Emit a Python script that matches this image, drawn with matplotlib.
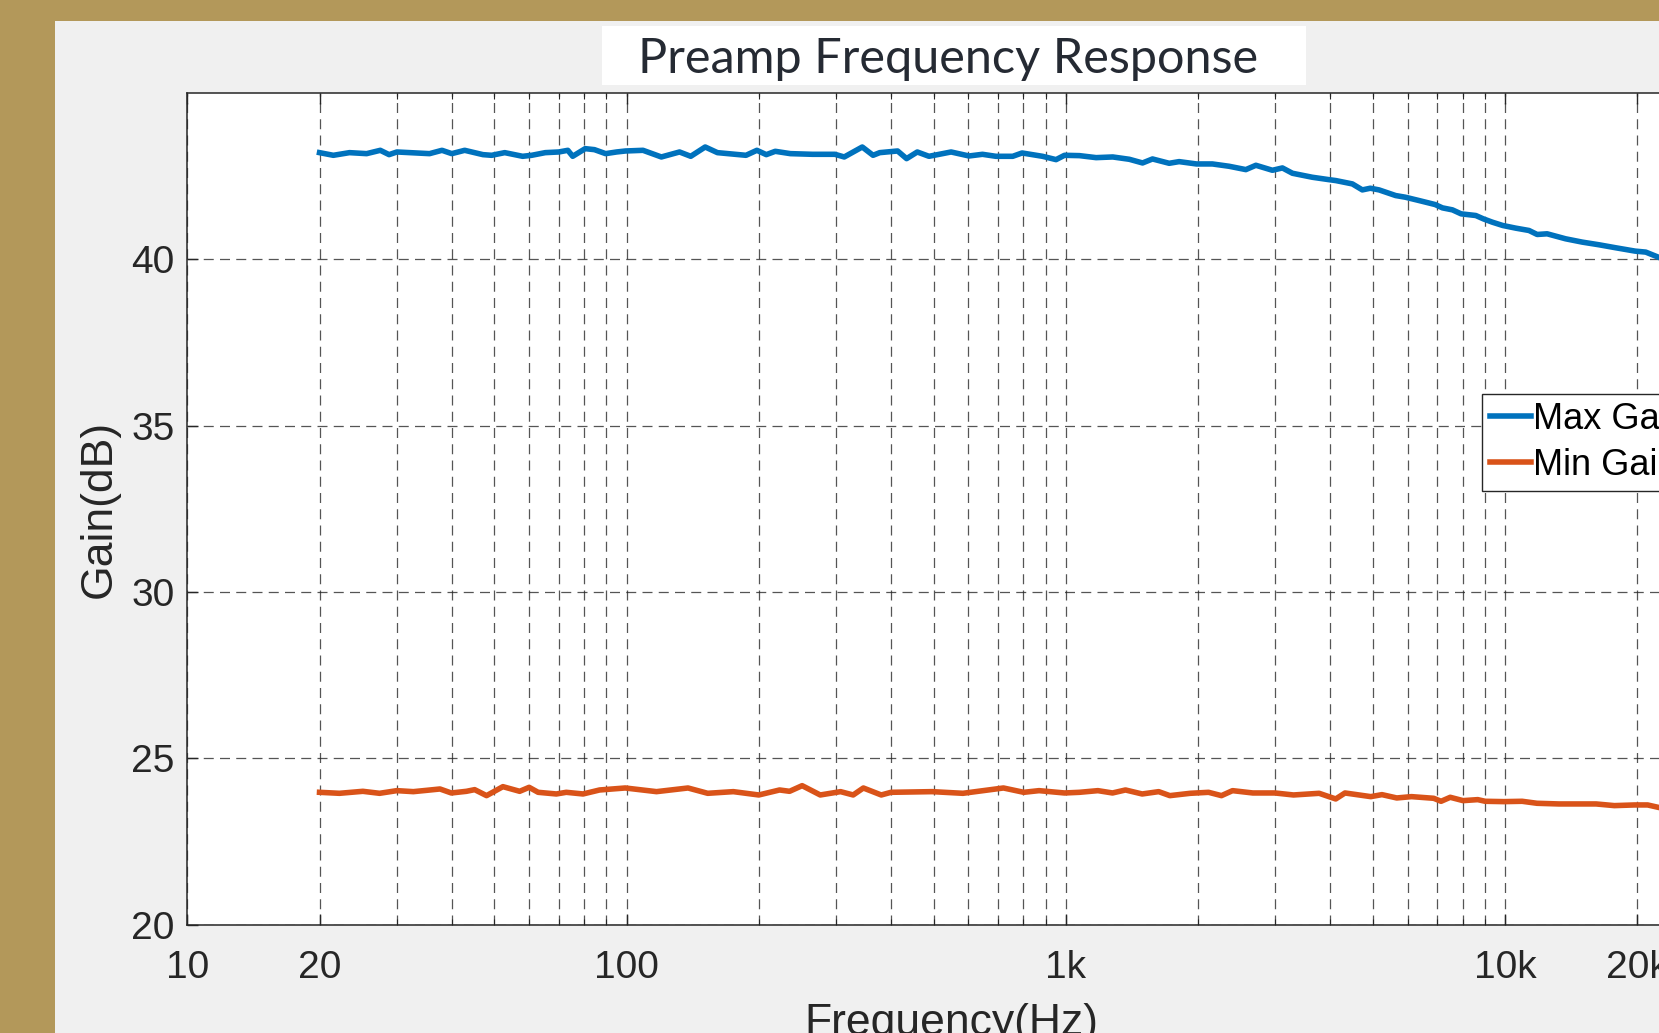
import numpy as np
import matplotlib
matplotlib.use('Agg')
import matplotlib.pyplot as plt
from matplotlib.patches import Rectangle
from matplotlib.ticker import LogLocator, NullFormatter

plt.rcParams['font.family'] = ['Liberation Sans', 'DejaVu Sans']

# Max gain curve (Hz, dB)
freq_max = [20, 21.5, 23.4, 25.6, 27.5,
            28.8, 30, 35.6, 38, 40,
            42.8, 47.1, 49.3, 52.8, 58,
            60.8, 65.3, 70.1, 73.5, 75.4,
            80.5, 84.5, 89.6, 94.9, 99.5,
            109, 120, 132, 140, 151,
            161, 187, 198, 208, 218,
            236, 265, 298, 313, 344,
            364, 377, 414, 434, 459,
            488, 548, 602, 646, 693,
            757, 795, 885, 950, 993,
            1074, 1172, 1279, 1395, 1495,
            1575, 1719, 1811, 1983, 2156,
            2354, 2569, 2708, 2953, 3112,
            3280, 3640, 3962, 4118, 4490,
            4731, 4933, 5164, 5634, 5928,
            6369, 6928, 7199, 7586, 7940,
            8575, 8919, 9350, 9877, 10575,
            11334, 11830, 12464, 13729, 14987,
            16360, 17860, 19760, 20900, 22300]
gain_max = [43.21, 43.13, 43.21, 43.18, 43.28,
            43.15, 43.23, 43.18, 43.28, 43.18,
            43.28, 43.15, 43.13, 43.21, 43.10,
            43.13, 43.21, 43.23, 43.28, 43.10,
            43.33, 43.30, 43.18, 43.23, 43.26,
            43.28, 43.08, 43.23, 43.10, 43.38,
            43.21, 43.13, 43.28, 43.15, 43.25,
            43.18, 43.16, 43.16, 43.08, 43.38,
            43.13, 43.21, 43.26, 43.03, 43.23,
            43.10, 43.23, 43.11, 43.16, 43.10,
            43.10, 43.20, 43.10, 43.00, 43.13,
            43.12, 43.06, 43.08, 43.01, 42.90,
            43.02, 42.89, 42.94, 42.87, 42.87,
            42.80, 42.70, 42.83, 42.68, 42.75,
            42.59, 42.47, 42.40, 42.37, 42.27,
            42.09, 42.14, 42.09, 41.92, 41.87,
            41.77, 41.65, 41.55, 41.49, 41.37,
            41.32, 41.22, 41.12, 41.02, 40.94,
            40.87, 40.75, 40.77, 40.62, 40.52,
            40.44, 40.35, 40.25, 40.22, 40.07]

# Min gain curve (Hz, dB)
freq_min = [20, 22.2, 25.1, 27.4, 30,
            32.7, 35.1, 37.6, 39.9, 43.2,
            45.1, 48, 52.3, 57.1, 60,
            62.9, 69.2, 72.9, 79.6, 86.8,
            99.3, 117, 138, 153, 175,
            200, 223, 235, 251, 276,
            307, 328, 346, 380, 400,
            496, 583, 721, 802, 869,
            993, 1074, 1183, 1277, 1367,
            1492, 1627, 1725, 1919, 2113,
            2261, 2396, 2665, 2994, 3298,
            3773, 4115, 4320, 4945, 5244,
            5667, 6124, 6878, 7148, 7500,
            8021, 8664, 9010, 9925, 10935,
            11820, 13260, 16110, 17730, 19715,
            21110, 22280]
gain_min = [23.98, 23.95, 24.01, 23.95, 24.03,
            24.00, 24.04, 24.08, 23.96, 24.01,
            24.06, 23.88, 24.15, 24.01, 24.13,
            23.98, 23.93, 23.98, 23.93, 24.05,
            24.11, 24.00, 24.11, 23.95, 24.00,
            23.90, 24.05, 24.01, 24.18, 23.90,
            24.00, 23.90, 24.11, 23.90, 23.98,
            24.00, 23.95, 24.11, 23.98, 24.03,
            23.96, 23.98, 24.03, 23.96, 24.05,
            23.93, 24.00, 23.88, 23.95, 23.98,
            23.88, 24.03, 23.96, 23.96, 23.90,
            23.95, 23.78, 23.96, 23.85, 23.91,
            23.81, 23.85, 23.80, 23.71, 23.83,
            23.73, 23.76, 23.71, 23.70, 23.71,
            23.65, 23.63, 23.63, 23.58, 23.60,
            23.60, 23.53]

xticks = [10, 20, 100, 1000, 10000, 20000]
xticklabels = ['10', '20', '100', '1k', '10k', '20k']
yticks = [20, 25, 30, 35, 40]

W, H = 1659, 1033
fig = plt.figure(figsize=(W / 100, H / 100), dpi=100, facecolor='#f0f0f0')

# gold frame of the slide
gold = '#b3985a'
fig.patches.append(Rectangle((0, 0), 55 / W, 1, transform=fig.transFigure,
                             facecolor=gold, edgecolor='none', zorder=0))
fig.patches.append(Rectangle((0, 1 - 21 / H), 1, 21 / H, transform=fig.transFigure,
                             facecolor=gold, edgecolor='none', zorder=0))

# white title box
fig.patches.append(Rectangle((602 / W, 1 - 85 / H), 704 / W, 59 / H, transform=fig.transFigure,
                             facecolor='white', edgecolor='none', zorder=1))
fig.text(948 / W, 1 - 59 / H, 'Preamp Frequency Response', ha='center', va='center',
         fontsize=35, family=['Lato', 'DejaVu Sans'], color='#252a33', zorder=2)

ax = fig.add_axes([187.3 / W, (H - 924.7) / H, 1527.4 / W, 831.6 / H])
ax.set_facecolor('white')

ax.semilogx(freq_max, gain_max, color='#0072BD', lw=4, label='Max Gain', zorder=3)
ax.semilogx(freq_min, gain_min, color='#D95319', lw=4, label='Min Gain', zorder=3)

ax.set_xlim(10, 30000)
ax.set_ylim(20, 45)
ax.set_xticks(xticks)
ax.set_xticklabels(xticklabels)
ax.xaxis.set_minor_locator(LogLocator(base=10, subs=np.arange(2, 10)))
ax.xaxis.set_minor_formatter(NullFormatter())
ax.set_yticks(yticks)

dash = (0, (8, 5))
ax.grid(True, which='both', axis='x', ls=dash, color='#2a2a2a', lw=0.9, alpha=0.8)
ax.grid(True, which='major', axis='y', ls=dash, color='#2a2a2a', lw=0.9, alpha=0.8)

ax.tick_params(which='both', direction='in', top=True, right=True, colors='#262626')
ax.tick_params(which='major', length=8, width=1)
ax.tick_params(which='minor', length=4, width=0.8)
ax.tick_params(axis='x', labelsize=28, pad=18.5)
ax.tick_params(axis='y', labelsize=28, pad=9)
for s in ax.spines.values():
    s.set_color('#262626')
    s.set_linewidth(1.1)

ax.set_xlabel('Frequency(Hz)', fontsize=32, color='#262626')
ax.xaxis.set_label_coords(0.5, -0.0942)
ax.set_ylabel('Gain(dB)', fontsize=32, color='#262626')
ax.yaxis.set_label_coords(-0.0441, 0.5)

leg = ax.legend(loc='upper left', bbox_to_anchor=(1482 / W, 1 - 394 / H),
                bbox_transform=fig.transFigure, fontsize=26, frameon=True,
                fancybox=False, edgecolor='#262626', framealpha=1,
                borderpad=0.22, handlelength=1.15, handletextpad=0.05,
                labelspacing=0.3, borderaxespad=0)
leg.get_frame().set_linewidth(1.0)

fig.savefig('out.png', dpi=100, facecolor=fig.get_facecolor())
